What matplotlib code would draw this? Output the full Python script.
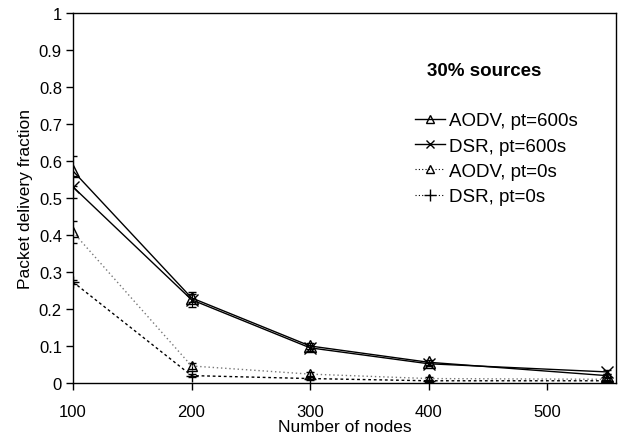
import matplotlib
matplotlib.use("Agg")
import matplotlib.pyplot as plt
from matplotlib.lines import Line2D

plt.rcParams['font.family'] = ['Liberation Sans', 'DejaVu Sans']

nodes = [100, 200, 300, 400, 550]
aodv_600 = [0.573, 0.230, 0.100, 0.056, 0.020]
dsr_600 = [0.530, 0.225, 0.095, 0.052, 0.030]
aodv_0 = [0.408, 0.046, 0.024, 0.012, 0.010]
dsr_0 = [0.273, 0.020, 0.012, 0.006, 0.006]
aodv_600_err = [0.04, 0.01, 0.008, 0.006, 0.005]
dsr_600_err = [0.03, 0.02, 0.008, 0.006, 0.005]
aodv_0_err = [0.03, 0.008, 0.005, 0.005, 0.004]
dsr_0_err = [0.006, 0.004, 0.003, 0.003, 0.003]
labels = ['AODV, pt=600s', 'DSR, pt=600s', 'AODV, pt=0s', 'DSR, pt=0s']

fig = plt.figure(figsize=(6.21, 4.39), dpi=100)
ax = fig.add_axes([73/621, 1-384/439, (616-73)/621, (384-14)/439])

ax.errorbar(nodes, aodv_600, yerr=aodv_600_err, color='black', lw=1.0, marker='^',
            mfc='none', mec='black', ms=8, capsize=3, elinewidth=0.8)
ax.errorbar(nodes, dsr_600, yerr=dsr_600_err, color='black', lw=1.0, marker='x',
            ms=8, capsize=3, elinewidth=0.8)
ax.errorbar(nodes, aodv_0, yerr=aodv_0_err, color='#777777', lw=1.0, ls=(0, (1, 2)), marker='^',
            mfc='none', mec='black', ms=7, capsize=3, ecolor='black', elinewidth=0.8)
ax.errorbar(nodes, dsr_0, yerr=dsr_0_err, color='black', lw=1.0, ls=(0, (2, 2)), marker='+',
            mec='black', ms=9, capsize=3, ecolor='black', elinewidth=0.8)

ax.set_xlim(100, 558)
ax.set_ylim(0, 1)
ax.set_xticks([100, 200, 300, 400, 500])
ax.set_yticks([0, 0.1, 0.2, 0.3, 0.4, 0.5, 0.6, 0.7, 0.8, 0.9, 1])
ax.set_yticklabels(['0', '0.1', '0.2', '0.3', '0.4', '0.5', '0.6', '0.7', '0.8', '0.9', '1'])
ax.tick_params(direction='out', length=5, width=1, labelsize=12, top=False, right=False)
ax.tick_params(axis='x', pad=10)
ax.tick_params(axis='y', pad=3)
for s in ax.spines.values():
    s.set_linewidth(1.0)
ax.set_xlabel('Number of nodes', fontsize=12.5, labelpad=0)
ax.set_ylabel('Packet delivery fraction', fontsize=12.5, labelpad=4)

fig.text(427/621, 1-72/439, '30% sources', fontsize=13.5, fontweight='bold', va='center')

handles = [
    Line2D([], [], color='black', lw=1.0, marker='^', mfc='none', mec='black', ms=6),
    Line2D([], [], color='black', lw=1.0, marker='x', mec='black', ms=6),
    Line2D([], [], color='black', lw=0.8, ls=(0, (1, 2)), marker='^', mfc='none', mec='black', ms=6),
    Line2D([], [], color='black', lw=0.8, ls=(0, (1, 2)), marker='+', mec='black', ms=8),
]
leg = ax.legend(handles, labels, loc='upper left', bbox_to_anchor=(415/621, 1-113/439),
                bbox_transform=fig.transFigure, frameon=False,
                fontsize=13.5, handlelength=1.6, handletextpad=0.2, labelspacing=0.44,
                borderaxespad=0, borderpad=0)

fig.savefig('out.png', dpi=100)
